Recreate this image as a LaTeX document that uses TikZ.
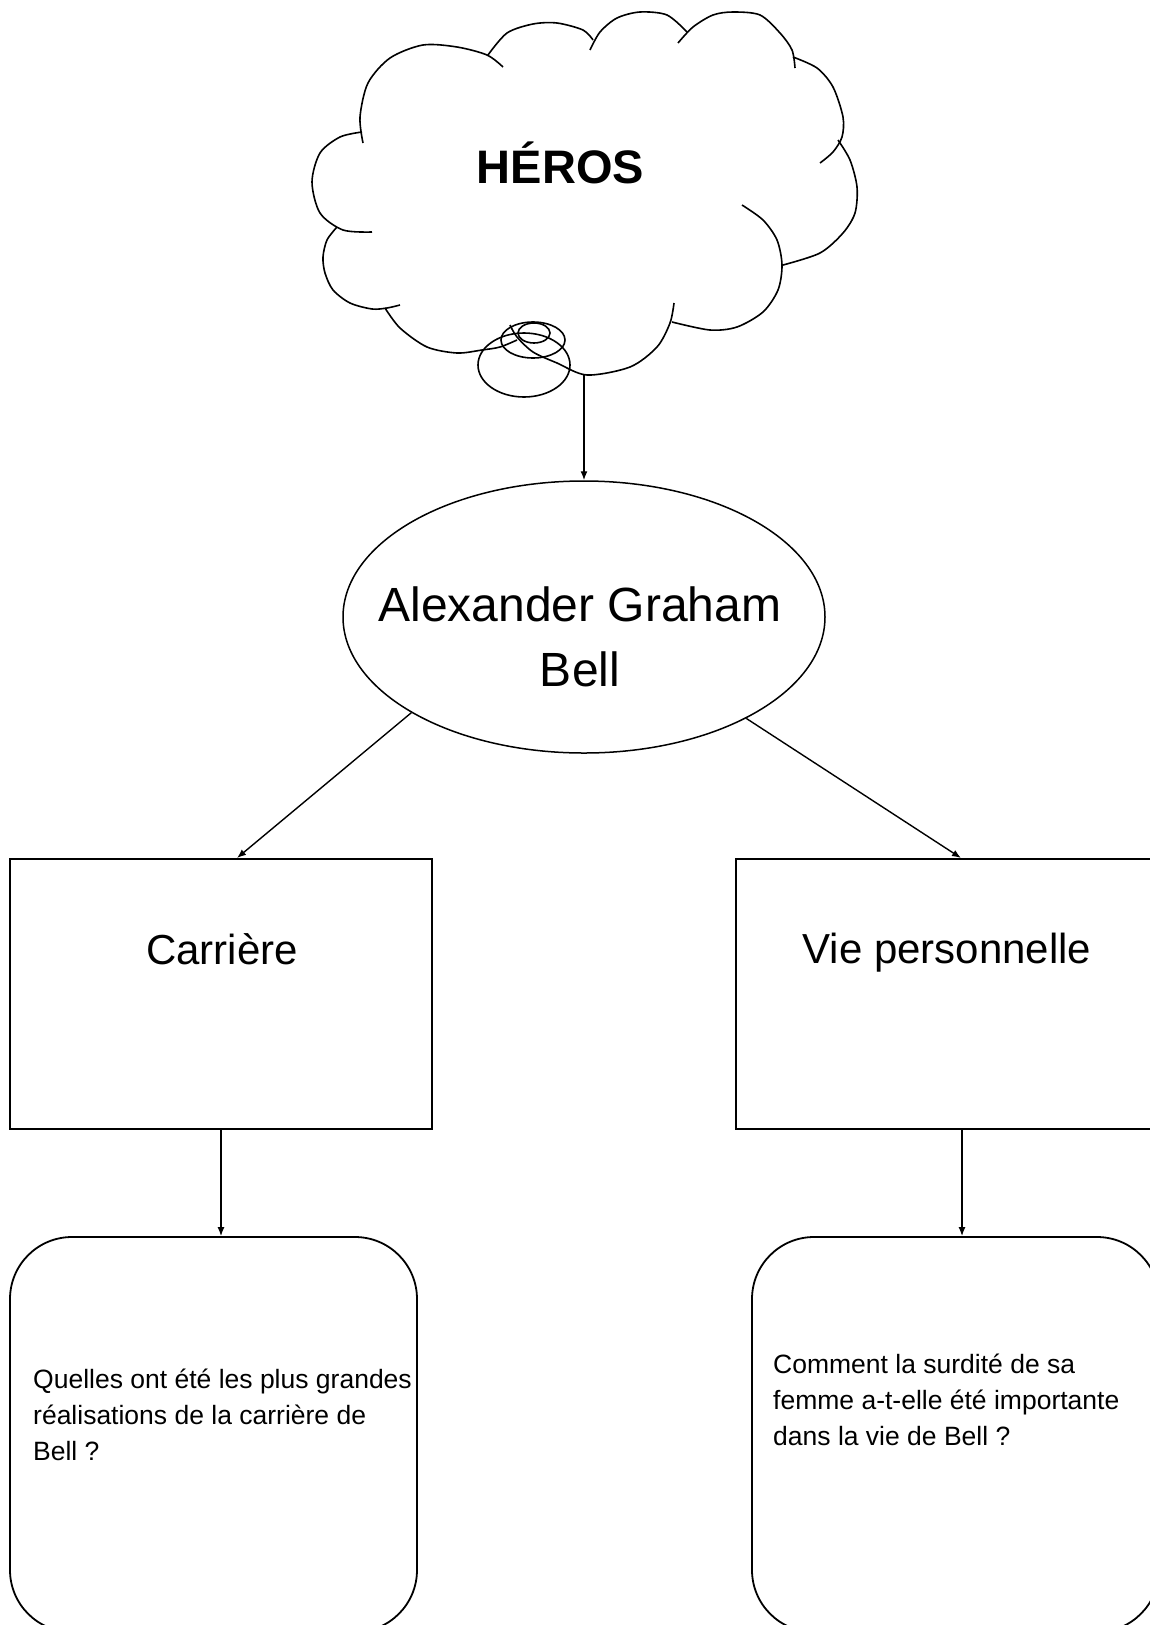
\documentclass[tikz,border=0pt]{standalone}
\usepackage{fontspec}
\setmainfont{Liberation Sans}
\usetikzlibrary{shapes.geometric,arrows.meta}

\begin{document}
\begin{tikzpicture}[x=1pt,y=-1pt,
  cloudline/.style={line width=1.6pt,line join=round},
  conn/.style={line width=1.4pt,-{Latex[length=9pt,width=7pt]}},
  topicbox/.style={draw,line width=2pt,minimum width=422pt,minimum height=270pt,inner sep=0pt},
  questbox/.style={draw,line width=1.8pt,rounded corners=62pt,minimum width=407pt,minimum height=395pt,inner sep=0pt},
  topictext/.style={font=\fontsize{42}{50}\selectfont,anchor=base,inner sep=0pt},
  questtext/.style={font=\fontsize{26.5}{36}\selectfont,align=left,anchor=base west,inner sep=0pt}]
\useasboundingbox (0,0) rectangle (1149,1625);

% cloud
\draw[cloudline] plot[smooth] coordinates {(372,232) (343,230) (320,213) (312,182) (320,153) (340,137) (362,132)};
\draw[cloudline] plot[smooth] coordinates {(363,143) (360,117) (368,83) (390,58) (423,45) (457,47) (487,55) (503,67)};
\draw[cloudline] plot[smooth] coordinates {(488,55) (507,33) (533,24) (557,23) (583,30) (593,40)};
\draw[cloudline] plot[smooth] coordinates {(590,50) (600,32) (617,18) (640,12) (667,15) (687,32)};
\draw[cloudline] plot[smooth] coordinates {(678,43) (693,27) (713,15) (733,12) (760,15) (780,33) (792,50) (795,68)};
\draw[cloudline] plot[smooth] coordinates {(793,57) (817,68) (833,87) (843,117) (842,137) (833,152) (820,163)};
\draw[cloudline] plot[smooth] coordinates {(838,140) (850,160) (857,187) (855,213) (843,233) (820,253) (783,265)};
\draw[cloudline] plot[smooth] coordinates {(742,205) (763,220) (777,240) (782,265) (778,290) (763,312) (737,327) (710,330) (672,322)};
\draw[cloudline] plot[smooth] coordinates {(674,303) (670,323) (657,347) (630,367) (587,375) (557,363) (533,352) (517,337) (510,325)};
\draw[cloudline] plot[smooth] coordinates {(385,308) (400,328) (427,347) (457,353) (482,350) (500,347) (517,340)};
\draw[cloudline] plot[smooth] coordinates {(400,305) (387,308) (372,309) (350,303) (333,290) (325,273) (323,257) (327,240) (337,227)};
\draw[cloudline] (524,365) ellipse [x radius=46, y radius=32];
\draw[cloudline] (533,340) ellipse [x radius=32, y radius=18];
\draw[cloudline] (534,333) ellipse [x radius=16, y radius=10];
\node[font=\bfseries\fontsize{47}{56}\selectfont,anchor=base,inner sep=0pt] (heros) at (560.5,183) {HÉROS};
\coordinate (cloudbot) at (584,375);

% ellipse
\node[draw,ellipse,line width=1.5pt,minimum width=482pt,minimum height=272pt,inner sep=0pt] (bell) at (584,617) {};
\node[font=\fontsize{48}{65}\selectfont,align=center,inner sep=0pt] (belltext) at (580,637) {Alexander Graham\\Bell};

% boxes
\node[topicbox] (carriere) at (221,994) {};
\node[topictext] (carrieretext) at (222,964) {Carrière};
\node[topicbox] (vie) at (947,994) {};
\node[topictext] (vietext) at (947,963) {Vie personnelle};

\node[questbox] (quest) at (213.5,1434.5) {};
\node[questtext] (questtext) at (33,1460) {Quelles ont été les plus grandes\\réalisations de la carrière de\\Bell ?};
\node[questbox] (surd) at (955.5,1434.5) {};
\node[questtext] (surdtext) at (773,1445) {Comment la surdité de sa\\femme a-t-elle été importante\\dans la vie de Bell ?};

% arrows
\draw[conn] (cloudbot) -- (bell.north);
\draw[conn] (bell.209) -- ([xshift=16pt]carriere.north);
\draw[conn] (bell.328) -- ([xshift=14pt]vie.north);
\draw[conn] (carriere.south) -- (carriere.south |- quest.north);
\draw[conn] ([xshift=15pt]vie.south) -- ([xshift=15pt]vie.south |- surd.north);
\end{tikzpicture}
\end{document}
